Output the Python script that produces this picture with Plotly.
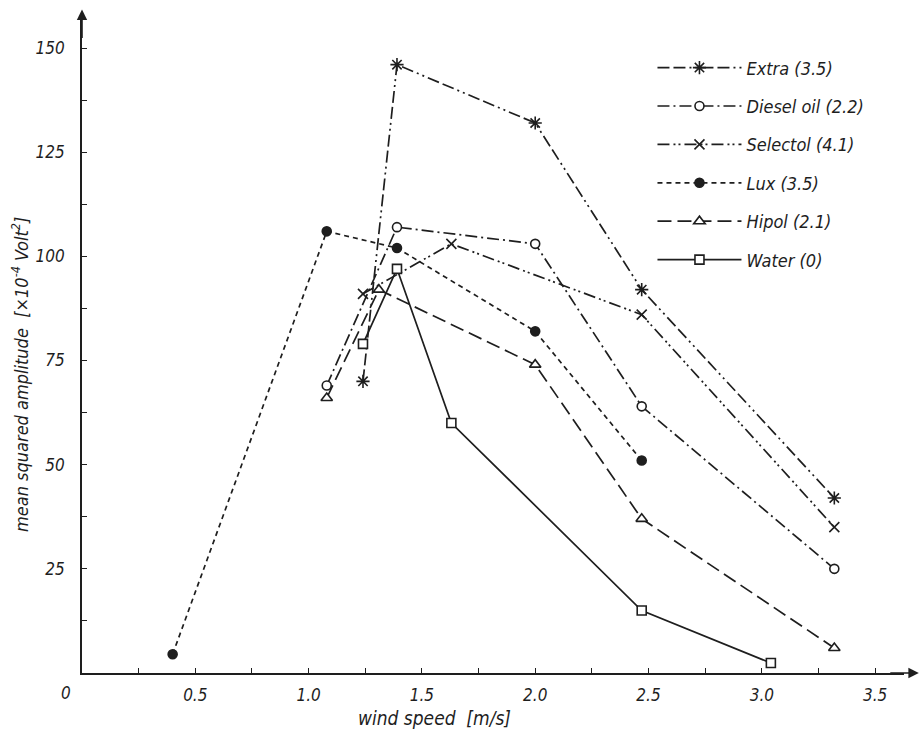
import plotly.graph_objects as go

# ---------------- data ----------------
extra_x = [1.24, 1.39, 2.0, 2.47, 3.32]
extra_y = [70, 146, 132, 92, 42]

diesel_x = [1.08, 1.39, 2.0, 2.47, 3.32]
diesel_y = [69, 107, 103, 64, 25]

selectol_x = [1.24, 1.63, 2.47, 3.32]
selectol_y = [91, 103, 86, 35]

lux_x = [0.40, 1.08, 1.39, 2.0, 2.47]
lux_y = [4.5, 106, 102, 82, 51]

hipol_x = [1.08, 1.31, 2.0, 2.47, 3.32]
hipol_y = [66, 92, 74, 37, 6]

water_x = [1.24, 1.39, 1.63, 2.47, 3.04]
water_y = [79, 97, 60, 15, 2.4]

x_tickvals = [0.5, 1.0, 1.5, 2.0, 2.5, 3.0, 3.5]
x_ticktext = ["0.5", "1.0", "1.5", "2.0", "2.5", "3.0", "3.5"]
y_tickvals = [25, 50, 75, 100, 125, 150]
y_ticktext = ["25", "50", "75", "100", "125", "150"]

# ---------------- style ----------------
INK = "#1e1e1e"
FONT = "DejaVu Sans Condensed, DejaVu Sans, sans-serif"

# name, x, y, symbol, size, fill, dash
series = [
    ("Extra (3.5)", extra_x, extra_y, "asterisk-open", 11, INK, "12px,4px,12px,4px,2px,4px,2px,4px"),
    ("Diesel oil (2.2)", diesel_x, diesel_y, "circle", 9, "white", "12px,4px,2px,4px"),
    ("Selectol (4.1)", selectol_x, selectol_y, "x-thin-open", 10, INK, "12px,4px,2px,3px,2px,4px"),
    ("Lux (3.5)", lux_x, lux_y, "circle", 9, INK, "5px,4px"),
    ("Hipol (2.1)", hipol_x, hipol_y, "triangle-up", 10, "white", "14px,6px"),
    ("Water (0)", water_x, water_y, "square", 9, "white", "solid"),
]

fig = go.Figure()
for i, (name, xs, ys, sym, size, fill, dash) in enumerate(series):
    fig.add_trace(go.Scatter(
        x=xs, y=ys, name=name, mode="lines+markers",
        legendgroup=f"g{i}",
        line=dict(color=INK, width=1.7, dash=dash),
        marker=dict(symbol=sym, size=size, color=fill,
                    line=dict(color=INK, width=1.6)),
    ))

axis_common = dict(
    showgrid=False, zeroline=False, showline=True, linecolor=INK, linewidth=1.6,
    ticks="inside", ticklen=5, tickwidth=1.3, tickcolor=INK,
    tickfont=dict(family=FONT, size=17, color=INK, style="italic"),
)

fig.update_layout(
    width=924, height=732,
    margin=dict(l=82, r=20, t=20, b=59),
    paper_bgcolor="white", plot_bgcolor="white",
    showlegend=True,
    legend=dict(
        x=0.694, y=0.955, xanchor="left", yanchor="top",
        font=dict(family=FONT, size=18, color=INK, style="italic"),
        tracegroupgap=12, itemwidth=84, bgcolor="rgba(0,0,0,0)",
    ),
    xaxis=dict(range=[0, 3.6275], tickvals=x_tickvals, ticktext=x_ticktext,
               minor=dict(ticks="inside", dtick=0.25, tick0=0, ticklen=5, tickcolor=INK, tickwidth=1.3),
               ticklabelstandoff=6, **axis_common),
    yaxis=dict(range=[0, 156.72], tickvals=y_tickvals, ticktext=y_ticktext,
               minor=dict(ticks="inside", dtick=12.5, tick0=0, ticklen=5, tickcolor=INK, tickwidth=1.3),
               ticklabelstandoff=12, **axis_common),
)

# axis arrows
fig.add_annotation(xref="paper", yref="paper", x=1.018, y=0, ax=-30, ay=0,
                   showarrow=True, arrowhead=2, arrowsize=1.3, arrowwidth=1.6, arrowcolor=INK, text="")
fig.add_annotation(xref="paper", yref="paper", x=0, y=1.016, ax=0, ay=30,
                   showarrow=True, arrowhead=2, arrowsize=1.3, arrowwidth=1.6, arrowcolor=INK, text="")

# origin label and axis titles
fig.add_annotation(xref="paper", yref="paper", x=-0.02, y=-0.012, text="0", showarrow=False,
                   font=dict(family=FONT, size=17, color=INK, style="italic"), xanchor="center", yanchor="top")
fig.add_annotation(xref="paper", yref="paper", x=(434 - 82) / 822, y=-(718 - 673) / 653,
                   text="wind speed  [m/s]", showarrow=False,
                   font=dict(family=FONT, size=19, color=INK, style="italic"), xanchor="center", yanchor="middle")
fig.add_annotation(xref="paper", yref="paper", x=-(82 - 20) / 822, y=(673 - 375) / 653,
                   text="mean squared amplitude  [×10<sup>-4</sup> Volt<sup>2</sup>]", showarrow=False,
                   textangle=-90,
                   font=dict(family=FONT, size=18, color=INK, style="italic"), xanchor="center", yanchor="middle")

fig.write_html("out.html")
